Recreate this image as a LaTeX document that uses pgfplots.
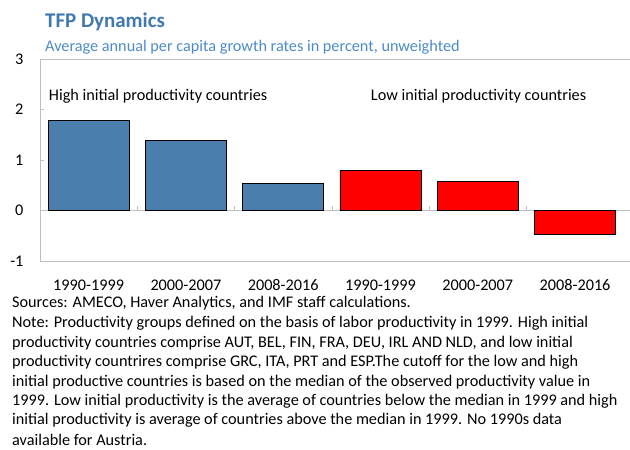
\documentclass[border=0pt]{standalone}
\usepackage{pgfplots}
\pgfplotsset{compat=1.18}
\usepackage{fontspec}
\setmainfont{Carlito}
\definecolor{barblue}{HTML}{4A7EAD}
\definecolor{titleblue}{HTML}{3F79AF}
\definecolor{subblue}{HTML}{4B8BC8}
\definecolor{axgray}{HTML}{BFBFBF}
\newcommand{\fs}{\fontsize{16.3}{19}\selectfont}
\begin{document}
\begin{tikzpicture}[x=1bp,y=1bp]
\useasboundingbox (-40,-189) rectangle (590,261);
\begin{axis}[
  at={(0,0)}, anchor=south west,
  scale only axis, width=590bp, height=202bp,
  xmin=-0.5, xmax=5.565, ymin=-1, ymax=3,
  axis y line*=left,
  axis line style={axgray},
  ytick={-1,0,1,2,3},
  xtick={0,1,2,3,4,5},
  xticklabels={1990-1999,2000-2007,2008-2016,1990-1999,2000-2007,2008-2016},
  tick align=inside,
  major tick length=4bp,
  ytick style={axgray},
  xtick style={draw=none},
  ticklabel style={font=\fs},
  yticklabel style={xshift=-13bp},
  xticklabel style={yshift=-11bp},
  /pgf/number format/assume math mode=true,
  ybar, bar width=0.833, bar shift=0pt,
  clip=false,
]
\draw[axgray] (axis cs:-0.5,0) -- (axis cs:5.565,0);
\draw[axgray] (axis cs:0.5,0) -- ([yshift=4bp]axis cs:0.5,0);
\draw[axgray] (axis cs:1.5,0) -- ([yshift=4bp]axis cs:1.5,0);
\draw[axgray] (axis cs:2.5,0) -- ([yshift=4bp]axis cs:2.5,0);
\draw[axgray] (axis cs:3.5,0) -- ([yshift=4bp]axis cs:3.5,0);
\draw[axgray] (axis cs:4.5,0) -- ([yshift=4bp]axis cs:4.5,0);
\addplot[fill=barblue, draw=black, line width=0.7pt] coordinates {(0,1.78) (1,1.38) (2,0.53)};
\addplot[fill=red, draw=black, line width=0.7pt] coordinates {(3,0.79) (4,0.57) (5,-0.47)};
\node[anchor=west, font=\fs, inner sep=0] at (axis cs:-0.41,2.27) {High initial productivity countries};
\node[anchor=west, font=\fs, inner sep=0] at (axis cs:2.9,2.27) {Low initial productivity countries};
\end{axis}
\node[anchor=west, inner sep=0, font=\fontsize{21}{24}\selectfont\bfseries, text=titleblue] at (5,239) {TFP Dynamics};
\node[anchor=west, inner sep=0, font=\fs, text=subblue] at (5,214) {Average annual per capita growth rates in percent, unweighted};
\begin{scope}[every node/.style={anchor=west, inner sep=0, font=\fs}]
\node at (-28,-42) {Sources: AMECO, Haver Analytics, and IMF staff calculations.};
\node at (-28,-62.5) {Note: Productivity groups defined on the basis of labor productivity in 1999. High initial};
\node at (-28,-81.9) {productivity countries comprise AUT, BEL, FIN, FRA, DEU, IRL AND NLD, and low initial};
\node at (-28,-101.3) {productivity countrires comprise GRC, ITA, PRT and ESP.The cutoff for the low and high};
\node at (-28,-120.7) {initial productive countries is based on the median of the observed productivity value in};
\node at (-28,-140.1) {1999. Low initial productivity is the average of countries below the median in 1999 and high};
\node at (-28,-159.5) {initial productivity is average of countries above the median in 1999. No 1990s data};
\node at (-28,-178.9) {available for Austria.};
\end{scope}
\end{tikzpicture}
\end{document}
